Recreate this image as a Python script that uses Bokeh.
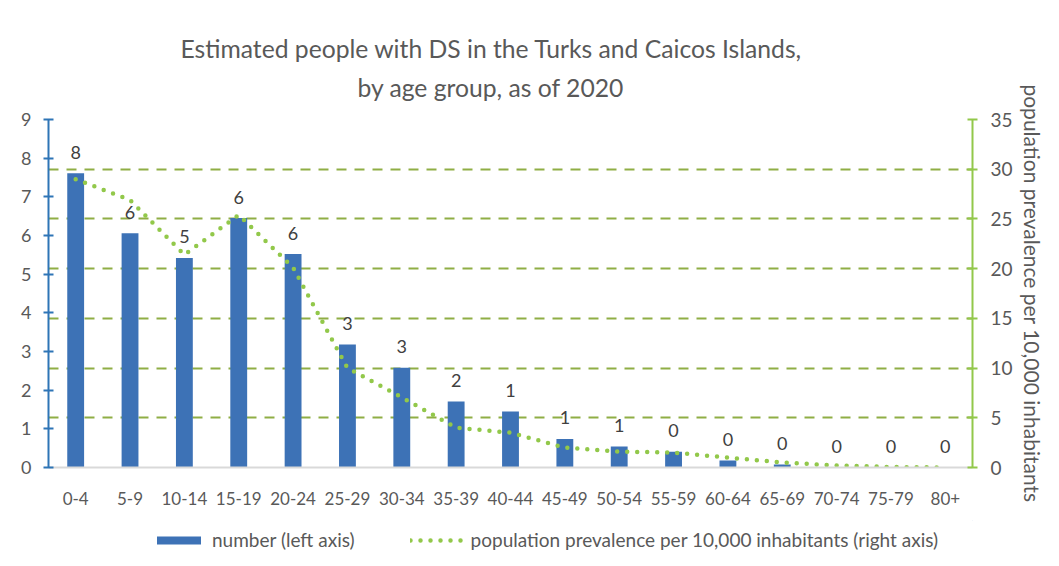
from bokeh.plotting import figure
from bokeh.layouts import column
from bokeh.models import (FactorRange, Range1d, LinearAxis, FixedTicker, Grid,
                          ColumnDataSource, Legend, LegendItem, Title)
from bokeh.core.properties import value
from bokeh.embed import file_html
from bokeh.resources import INLINE

# ---- data ----
age_groups = ["0-4", "5-9", "10-14", "15-19", "20-24", "25-29", "30-34", "35-39",
              "40-44", "45-49", "50-54", "55-59", "60-64", "65-69", "70-74", "75-79", "80+"]
number = [7.61, 6.06, 5.42, 6.45, 5.52, 3.18, 2.58, 1.71, 1.45, 0.74, 0.54, 0.41,
          0.18, 0.08, 0.0, 0.0, 0.0]
number_labels = ["8", "6", "5", "6", "6", "3", "3", "2", "1", "1", "1", "0",
                 "0", "0", "0", "0", "0"]
prevalence = [29.0, 26.9, 21.4, 25.4, 20.1, 10.0, 7.05, 4.0, 3.5, 2.0, 1.6, 1.5,
              1.0, 0.5, 0.2, 0.05, 0.0]
left_ticks = [0, 1, 2, 3, 4, 5, 6, 7, 8, 9]
right_ticks = [0, 5, 10, 15, 20, 25, 30, 35]
title_lines = ["Estimated people with DS in the Turks and Caicos Islands,",
               "by age group, as of 2020"]
right_axis_title = "population prevalence per 10,000 inhabitants"
legend_labels = ["number (left axis)",
                 "population prevalence per 10,000 inhabitants (right axis)"]

FONT = "Lato"
TXT = "#595959"
BAR = "#3d72b6"
LINE = "#92c84a"
GRID = "#8fae45"
W = 1059
ML = 48

# ---------------- main chart ----------------
src = ColumnDataSource(dict(age=age_groups, number=number, lab=number_labels,
                            prev=prevalence))

p = figure(x_range=FactorRange(*age_groups), y_range=Range1d(0, 9),
           width=W, height=520, output_backend="svg", toolbar_location=None,
           min_border_left=ML, min_border_right=87, min_border_top=119,
           min_border_bottom=53)
p.outline_line_color = None
p.xgrid.visible = False
p.ygrid.visible = False
p.extra_y_ranges = {"right": Range1d(0, 35)}

# titles (closest to the frame first)
t2 = Title(text=title_lines[1], align="left", offset=357 - ML, standoff=36,
           text_font=FONT, text_font_size="24.7px", text_font_style="normal",
           text_color=TXT)
t1 = Title(text=title_lines[0], align="left", offset=180 - ML, standoff=-20,
           text_font=FONT, text_font_size="24.7px", text_font_style="normal",
           text_color=TXT)
p.add_layout(t2, "above")
p.add_layout(t1, "above")

raxis = LinearAxis(y_range_name="right", ticker=FixedTicker(ticks=right_ticks),
                   axis_label=right_axis_title)
raxis.axis_line_color = LINE
raxis.axis_line_width = 2
raxis.major_tick_line_color = LINE
raxis.major_tick_line_width = 2
raxis.major_tick_in = 5
raxis.major_tick_out = 5
raxis.minor_tick_line_color = None
raxis.major_label_text_font = FONT
raxis.major_label_text_font_size = "19px"
raxis.major_label_text_color = TXT
raxis.major_label_standoff = 13
raxis.axis_label_text_font = FONT
raxis.axis_label_text_font_size = "21px"
raxis.axis_label_text_font_style = "normal"
raxis.axis_label_text_color = TXT
raxis.axis_label_standoff = 4
p.add_layout(raxis, "right")

grid = Grid(dimension=1, ticker=FixedTicker(ticks=right_ticks[1:]), y_range_name="right")
grid.grid_line_color = GRID
grid.grid_line_width = 2
grid.grid_line_dash = "10 8"
p.add_layout(grid)

la = p.yaxis[0]
la.ticker = FixedTicker(ticks=left_ticks)
la.axis_line_color = "#2e75b6"
la.axis_line_width = 2
la.major_tick_line_color = "#2e75b6"
la.major_tick_line_width = 2
la.major_tick_in = 5
la.major_tick_out = 5
la.minor_tick_line_color = None
la.major_label_text_font = FONT
la.major_label_text_font_size = "18px"
la.major_label_text_color = TXT
la.major_label_standoff = 12

xa = p.xaxis[0]
xa.axis_line_color = "#d9d9d9"
xa.axis_line_width = 2
xa.major_tick_line_color = None
xa.minor_tick_line_color = None
xa.major_label_text_font = FONT
xa.major_label_text_font_size = "17px"
xa.major_label_text_color = TXT
xa.major_label_standoff = 18

p.vbar(x="age", top="number", width=0.31, source=src, fill_color=BAR, line_color=None)
p.text(x="age", y="number", text="lab", source=src, text_align="center",
       text_baseline="middle", y_offset=-21, text_font=value(FONT),
       text_font_size="18px", text_color="#404040")
p.line(x="age", y="prev", source=src, y_range_name="right", line_color=LINE,
       line_width=4.5, line_dash="0 10", line_cap="round")

# ---------------- legend strip ----------------
lp = figure(width=W, height=46, x_range=Range1d(0, 1), y_range=Range1d(0, 1),
            output_backend="svg", toolbar_location=None, x_axis_type=None,
            y_axis_type=None, min_border=0)
lp.outline_line_color = None
lp.grid.visible = False
# proxies drawn off-range, only used for the legend swatches
lb = lp.vbar(x=[5], top=[5], bottom=[4], width=0.3, fill_color=BAR, line_color=None)
ll = lp.line(x=[5, 6], y=[5, 5], line_color=LINE, line_width=4.5, line_dash="0 10",
             line_cap="round")
legend = Legend(items=[LegendItem(label=legend_labels[0], renderers=[lb]),
                       LegendItem(label=legend_labels[1], renderers=[ll])],
                orientation="horizontal", location=(103, 15), padding=0, margin=0,
                spacing=55, label_standoff=6, glyph_width=55, glyph_height=10,
                border_line_color=None, background_fill_alpha=0,
                label_text_font=FONT, label_text_font_size="19px",
                label_text_color=TXT)
lp.add_layout(legend)

layout = column(p, lp, spacing=0)
open("out.html", "w").write(file_html(layout, INLINE))
